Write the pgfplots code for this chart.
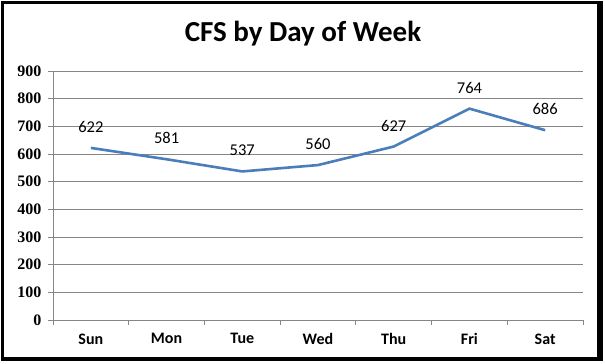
\documentclass[border=0pt]{standalone}
\usepackage{pgfplots}
\pgfplotsset{compat=1.18}
\usepackage{fontspec}
\setmainfont{Carlito}
\newfontfamily\serifnum{Liberation Serif}
\definecolor{linec}{RGB}{74,126,187}
\definecolor{gridc}{RGB}{134,134,134}
\begin{document}
\begin{tikzpicture}
\fill[white] (0pt,0pt) rectangle (605pt,364pt);
\fill[black] (1pt,3pt) rectangle (603pt,363pt);
\fill[white] (4pt,7pt) rectangle (597pt,360pt);
\node[font=\bfseries\fontsize{29}{32}\selectfont] at (303pt,330pt) {CFS by Day of Week};
\begin{axis}[
  at={(53pt,44pt)}, anchor=south west,
  scale only axis, width=530pt, height=249pt,
  xmin=-0.5, xmax=6.5, ymin=0, ymax=900,
  ytick={0,100,...,900},
  xtick={0,...,6},
  xticklabels={Sun,Mon,Tue,Wed,Thu,Fri,Sat},
  minor xtick={-0.5,0.5,...,6.5},
  major x tick style={draw=none},
  minor x tick style={gridc, line width=0.8pt},
  minor tick length=5pt,
  major tick length=5pt,
  tick align=outside,
  ytick style={gridc, line width=0.8pt},
  ymajorgrids, grid style={gridc, line width=0.8pt},
  axis x line*=bottom, axis y line*=left,
  axis line style={gridc, line width=0.8pt},
  /pgf/number format/assume math mode=true,
  yticklabel style={font=\serifnum\bfseries\fontsize{16}{16}\selectfont, xshift=-3pt},
  xticklabel style={font=\bfseries\fontsize{16}{16}\selectfont, yshift=-5pt},
  clip=false,
  nodes near coords,
  nodes near coords style={font=\fontsize{16.5}{16.5}\selectfont, anchor=center, yshift=21pt, text=black},
]
\addplot[linec, line width=2.6pt, mark=none] coordinates {
(0,622) (1,581) (2,537) (3,560) (4,627) (5,764) (6,686)};
\end{axis}
\end{tikzpicture}
\end{document}
